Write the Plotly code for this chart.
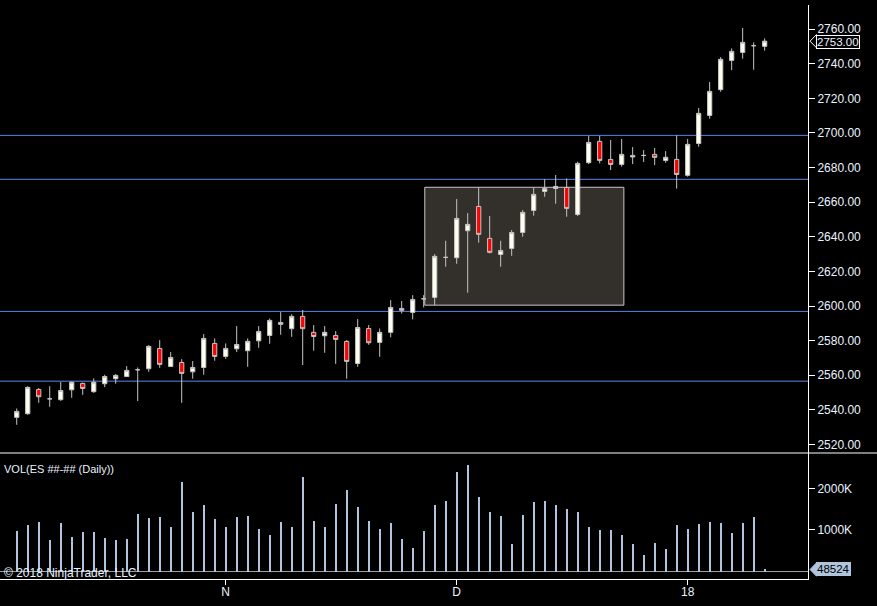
import plotly.graph_objects as go

# ---------------- data ----------------
bar_index = list(range(69))
opens = [2535.7, 2537.8, 2551.8, 2546.4, 2545.9, 2551.6, 2555.3, 2550.5, 2555.1, 2558.0,
         2559.3, 2563.2, 2563.8, 2575.5, 2565.1, 2567.4, 2562.0, 2564.5, 2578.4, 2570.9,
         2575.3, 2574.2, 2579.9, 2583.0, 2590.5, 2586.9, 2594.0, 2584.8, 2582.8, 2583.0,
         2579.6, 2566.8, 2587.0, 2579.0, 2584.8, 2598.6, 2596.3, 2604.2, 2605.0, 2628.1,
         2627.9, 2643.5, 2657.5, 2639.1, 2629.8, 2633.3, 2642.5, 2655.2, 2666.2, 2667.9,
         2668.5, 2652.9, 2682.8, 2695.1, 2684.7, 2681.8, 2687.0, 2687.0, 2687.6, 2684.1,
         2684.7, 2675.5, 2693.9, 2710.1, 2725.0, 2741.9, 2746.5, 2750.4, 2750.0]
highs = [2540.8, 2553.7, 2552.6, 2553.7, 2556.2, 2556.4, 2555.8, 2558.2, 2560.3, 2560.7,
         2565.3, 2564.5, 2577.4, 2580.3, 2573.4, 2569.3, 2568.2, 2583.8, 2581.3, 2578.4,
         2588.4, 2581.3, 2588.4, 2592.8, 2596.5, 2595.3, 2597.7, 2589.0, 2588.4, 2585.5,
         2580.3, 2592.5, 2589.0, 2587.0, 2603.4, 2602.9, 2606.3, 2606.3, 2630.0, 2637.7,
         2661.8, 2653.7, 2668.5, 2652.0, 2637.7, 2643.9, 2655.4, 2668.5, 2673.3, 2675.7,
         2673.7, 2683.4, 2698.2, 2698.2, 2695.9, 2696.5, 2691.8, 2690.1, 2691.3, 2689.5,
         2698.6, 2696.5, 2714.4, 2729.4, 2743.8, 2748.8, 2760.6, 2752.3, 2754.6]
lows = [2531.4, 2537.2, 2544.1, 2541.8, 2545.3, 2547.0, 2548.7, 2549.9, 2553.2, 2555.1,
        2559.0, 2545.1, 2562.0, 2564.3, 2564.8, 2544.1, 2558.0, 2560.3, 2568.4, 2569.5,
        2573.4, 2564.9, 2575.9, 2578.2, 2583.4, 2582.2, 2565.9, 2574.2, 2573.0, 2566.6,
        2558.0, 2564.9, 2577.6, 2570.7, 2581.9, 2595.7, 2592.3, 2599.2, 2600.5, 2622.7,
        2624.4, 2607.7, 2636.6, 2630.4, 2622.7, 2629.0, 2640.0, 2652.2, 2663.1, 2659.1,
        2651.6, 2652.0, 2682.0, 2682.4, 2678.5, 2680.5, 2682.0, 2683.2, 2681.4, 2682.8,
        2667.8, 2674.7, 2692.0, 2708.2, 2723.8, 2736.3, 2742.9, 2736.5, 2747.5]
closes = [2539.1, 2553.0, 2547.6, 2546.4, 2551.2, 2556.0, 2552.4, 2556.0, 2559.3, 2559.9,
          2562.8, 2563.2, 2576.7, 2566.3, 2570.3, 2561.1, 2564.5, 2581.3, 2570.9, 2575.5,
          2577.8, 2579.6, 2585.3, 2591.7, 2589.4, 2594.0, 2586.9, 2582.4, 2584.8, 2580.7,
          2568.0, 2587.6, 2578.8, 2584.8, 2599.2, 2597.5, 2603.8, 2604.2, 2628.7, 2628.1,
          2650.6, 2647.2, 2641.4, 2631.0, 2632.1, 2642.5, 2654.1, 2664.5, 2667.9, 2669.1,
          2656.4, 2682.4, 2694.5, 2684.1, 2681.8, 2687.6, 2686.1, 2687.0, 2685.9, 2685.9,
          2676.0, 2693.4, 2711.3, 2724.0, 2742.5, 2747.1, 2752.3, 2750.4, 2753.0]
volumes = [983000, 1127000, 1199000, 767000, 1175000, 839000, 959000, 959000, 815000, 767000,
           791000, 1391000, 1295000, 1319000, 1079000, 2158000, 1439000, 1607000, 1271000, 1079000,
           1319000, 1343000, 1031000, 887000, 1199000, 1079000, 2278000, 1223000, 1079000, 1631000,
           1967000, 1559000, 1223000, 1031000, 1175000, 791000, 575000, 983000, 1607000, 1703000,
           2398000, 2566000, 1799000, 1439000, 1343000, 671000, 1367000, 1679000, 1703000, 1607000,
           1511000, 1439000, 1079000, 1007000, 1007000, 887000, 671000, 408000, 695000, 552000,
           1127000, 1031000, 1151000, 1199000, 1175000, 935000, 1175000, 1319000, 48524]

date_tick_index = [19, 40, 61]
date_tick_labels = ["N", "D", "18"]
price_ticks = [2520, 2540, 2560, 2580, 2600, 2620, 2640, 2660, 2680, 2700, 2720, 2740, 2760]
volume_ticks = [1000000, 2000000]
volume_tick_labels = ["1000K", "2000K"]
level_lines = [2698.6, 2673.2, 2596.9, 2556.6]
zone_box = {"x0": 37.1, "x1": 55.2, "y0": 2600.5, "y1": 2668.6}
last_price = 2753.00
last_volume = 48524

FONT = "Arial, Liberation Sans, sans-serif"
AX = "#ffffff"
TXT = "#eaf2ff"

fig = go.Figure()
fig.add_trace(go.Candlestick(
    x=bar_index, open=opens, high=highs, low=lows, close=closes,
    xaxis="x", yaxis="y",
    increasing=dict(fillcolor="#fffff0", line=dict(color="#c4c4c4", width=1)),
    decreasing=dict(fillcolor="#ff0000", line=dict(color="#c4c4c4", width=1)),
    whiskerwidth=0, showlegend=False, hoverinfo="x+y",
))
fig.add_trace(go.Bar(
    x=bar_index, y=volumes, xaxis="x2", yaxis="y2",
    marker=dict(color="#b0c4de", line=dict(width=0)), width=0.2,
    showlegend=False,
))

xr = [-1.52, 71.94]
fig.update_layout(
    width=877, height=606,
    margin=dict(l=0, r=69, t=5, b=27, autoexpand=False),
    paper_bgcolor="#000000", plot_bgcolor="#000000",
    boxgap=0.45, bargap=0,
    font=dict(family=FONT, size=12, color=TXT),
    xaxis=dict(domain=[0, 1], range=xr, showgrid=False, zeroline=False,
               showticklabels=False, rangeslider=dict(visible=False),
               anchor="y", matches="x2", automargin=False),
    yaxis=dict(domain=[0.2195, 1], range=[2515.1, 2773.9], side="right",
               showgrid=False, zeroline=False, tickvals=price_ticks,
               tickformat=".2f", ticks="outside", ticklen=6, tickcolor=AX,
               showline=True, linecolor=AX, linewidth=1, automargin=False,
               tickfont=dict(family=FONT, size=12, color=TXT), anchor="x"),
    xaxis2=dict(domain=[0, 1], range=xr, showgrid=False, zeroline=False,
                tickvals=date_tick_index, ticktext=date_tick_labels,
                ticks="outside", ticklen=5, tickcolor=AX, automargin=False,
                ticklabelstandoff=-3,
                showline=True, linecolor=AX, linewidth=1,
                tickfont=dict(family=FONT, size=12, color=TXT), anchor="y2"),
    yaxis2=dict(domain=[0, 0.2195], range=[-180000, 2849000], side="right",
                showgrid=False, zeroline=False, tickvals=volume_ticks,
                ticktext=volume_tick_labels, ticks="outside", ticklen=6,
                tickcolor=AX, showline=True, linecolor=AX, linewidth=1, automargin=False,
                tickfont=dict(family=FONT, size=12, color=TXT), anchor="x2"),
    hovermode=False,
)

shapes = []
# support/resistance levels
for lv in level_lines:
    shapes.append(dict(type="line", xref="x", yref="y", x0=xr[0], x1=xr[1], y0=lv, y1=lv,
                       line=dict(color="#5a86e8", width=1), layer="below"))
# zone rectangle
shapes.append(dict(type="rect", xref="x", yref="y", layer="below",
                   x0=zone_box["x0"], x1=zone_box["x1"], y0=zone_box["y0"], y1=zone_box["y1"],
                   fillcolor="#332f2a", line=dict(color="#c8c8c8", width=1)))
# panel separator across full width
shapes.append(dict(type="line", xref="paper", yref="paper", x0=0, x1=877 / 808,
                   y0=0.2195, y1=0.2195, line=dict(color=AX, width=1)))
# volume zero line
shapes.append(dict(type="line", xref="x2", yref="y2", x0=xr[0], x1=xr[1], y0=0, y1=0,
                   line=dict(color="#a0a0a0", width=1), layer="below"))
# last price tag arrow
shapes.append(dict(type="path", xref="paper", yref="y",
                   path=f"M 1.0025 {last_price} L 1.0105 {last_price + 3.8} L 1.0105 {last_price - 3.8} Z",
                   fillcolor="#000000", line=dict(color=AX, width=1)))
# volume tag arrow
shapes.append(dict(type="path", xref="paper", yref="y2",
                   path=f"M 1.0025 {last_volume} L 1.0105 {last_volume + 160000} L 1.0105 {last_volume - 160000} Z",
                   fillcolor="#b0c4de", line=dict(color="#b0c4de", width=1)))
fig.update_layout(shapes=shapes)

annotations = [
    dict(xref="paper", yref="y", x=1.0095, y=last_price, xanchor="left", yanchor="middle",
         text=f"{last_price:.2f}", showarrow=False, bgcolor="#000000",
         bordercolor=AX, borderwidth=1, borderpad=0, yshift=-1,
         font=dict(family=FONT, size=11.5, color=TXT)),
    dict(xref="paper", yref="y2", x=1.0095, y=last_volume, xanchor="left", yanchor="middle",
         text=f"{last_volume}", showarrow=False, bgcolor="#b0c4de",
         bordercolor="#b0c4de", borderwidth=1, borderpad=0,
         font=dict(family=FONT, size=11.5, color="#000000")),
    dict(xref="paper", yref="paper", x=0.003, y=0.2195, xanchor="left", yanchor="top",
         yshift=-8, text="VOL(ES ##-## (Daily))", showarrow=False,
         font=dict(family=FONT, size=11, color=TXT)),
    dict(xref="paper", yref="paper", x=0.003, y=0.0, xanchor="left", yanchor="middle",
         yshift=6, text="© 2018 NinjaTrader, LLC", showarrow=False,
         font=dict(family=FONT, size=12, color=TXT)),
]
fig.update_layout(annotations=annotations)

fig.write_html("out.html", config={"displayModeBar": False},
               post_script="document.body.style.margin='0';")
